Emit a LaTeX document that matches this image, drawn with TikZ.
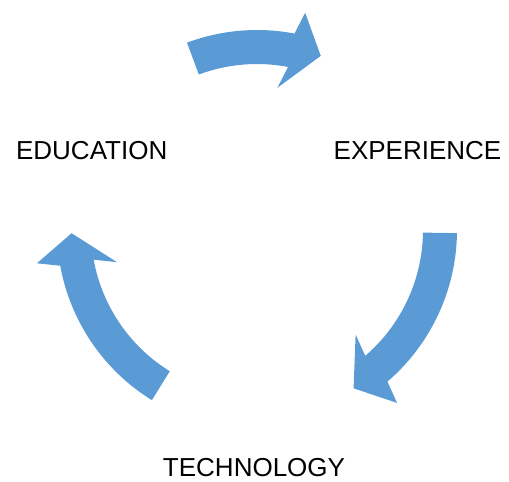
\documentclass[tikz,border=0pt]{standalone}
\usepackage{fontspec}
\setmainfont{Liberation Sans}
\usetikzlibrary{calc}
\definecolor{cycleblue}{RGB}{91,155,213}

\begin{document}
\begin{tikzpicture}[x=0.02cm,y=0.02cm,
    steplabel/.style={inner sep=0pt,font=\fontsize{14.8}{17}\selectfont}]
      % Frame of the picture
      \useasboundingbox (-257,-251) rectangle (252,230);

      % Block arrow on the circle: #1 tail angle, #2 head angle
      \def\cyclearrow#1#2{%
        \fill[cycleblue] (#1:200) arc[start angle=#1,end angle=#2,radius=200]
          -- ($(#2:183)+(#2-9.5:40)$) -- ($(#2:183)+(#2-90:30)$)
          -- ($(#2:183)-(#2-9.5:40)$) -- (#2:166)
          arc[start angle=#2,end angle=#1,radius=166] -- cycle;}

      % Arrows
      \cyclearrow{110.5}{79.2}
      \cyclearrow{-0.9}{-49.3}
      \cyclearrow{238.3}{190.3}

      % Labels
      \node[steplabel] (edu) at (-165.3,79.2) {EDUCATION};
      \node[steplabel] (exp) at (160.5,79.2) {EXPERIENCE};
      \node[steplabel] (tech) at (-3,-237.5) {TECHNOLOGY};
\end{tikzpicture}
\end{document}
